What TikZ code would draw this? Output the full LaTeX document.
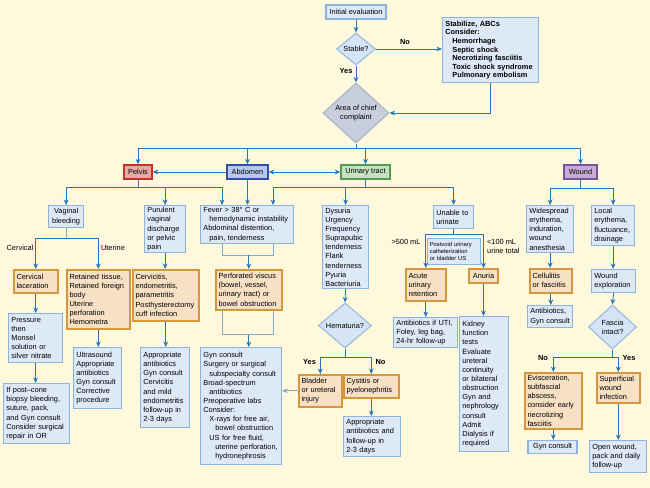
\documentclass[tikz,border=0pt]{standalone}
\usepackage{fontspec}
\setmainfont{Liberation Sans}
\usetikzlibrary{shapes.geometric,arrows.meta}

\definecolor{bgcream}{RGB}{254,248,220}
\definecolor{boxfill}{RGB}{221,233,247}
\definecolor{boxline}{RGB}{140,178,222}
\definecolor{orafill}{RGB}{247,224,196}
\definecolor{oraline}{RGB}{214,150,60}
\definecolor{arrowblue}{RGB}{37,117,185}
\definecolor{linelt}{RGB}{130,170,214}
\definecolor{decfill}{RGB}{214,229,246}
\definecolor{decline}{RGB}{150,184,224}
\definecolor{areafill}{RGB}{200,206,221}
\definecolor{arealine}{RGB}{168,176,194}
\definecolor{pelfill}{RGB}{230,170,165}
\definecolor{pelline}{RGB}{196,50,45}
\definecolor{abdfill}{RGB}{183,200,238}
\definecolor{abdline}{RGB}{50,80,170}
\definecolor{urifill}{RGB}{198,226,192}
\definecolor{uriline}{RGB}{80,155,80}
\definecolor{wndfill}{RGB}{196,172,212}
\definecolor{wndline}{RGB}{125,80,155}

\tikzset{
  txt/.style={font=\fontsize{8.4}{10.4}\selectfont, text=black},
  blubox/.style={txt, draw=boxline, fill=boxfill, line width=1.4pt, anchor=north west,
    align=left, inner xsep=1.1mm, inner ysep=0.6mm},
  orabox/.style={blubox, draw=oraline, fill=orafill, line width=1.8pt},
  midbox/.style={txt, draw=boxline, fill=boxfill, line width=1.4pt, inner sep=0.5mm},
  catbox/.style={txt, line width=1.6pt, inner sep=0.5mm, minimum height=5.6mm},
  decbox/.style={txt, diamond, draw=decline, fill=decfill, line width=1.2pt, inner sep=0pt, align=center},
  tag/.style={txt, inner sep=0pt},
  arr/.style={draw=arrowblue, line width=0.9pt, -{Stealth[length=2.2mm,width=1.9mm]}},
  ln/.style={draw=arrowblue, line width=0.9pt},
  lnlt/.style={draw=linelt, line width=0.9pt},
}

\begin{document}
\begin{tikzpicture}[x=0.4mm,y=-0.4mm]
\useasboundingbox (0,0) rectangle (650,488);
\fill[bgcream] (0,0) rectangle (650,488);

% top of the chart
\node[midbox, minimum width=24mm, minimum height=5.6mm] (init) at (356,12) {Initial evaluation};
\node[decbox, minimum width=15.6mm, minimum height=12.8mm] (stable) at (356,49) {Stable?};
\node[blubox, text width=36.2mm, minimum height=26mm, font=\fontsize{8.4}{9.7}\selectfont\bfseries] (stab) at (442,17)
  {Stabilize, ABCs\\Consider:\\\hspace*{2.8mm}Hemorrhage\\\hspace*{2.8mm}Septic shock\\\hspace*{2.8mm}Necrotizing fasciitis\\\hspace*{2.8mm}Toxic shock syndrome\\\hspace*{2.8mm}Pulmonary embolism};
\node[decbox, draw=arealine, fill=areafill, minimum width=26.4mm, minimum height=24mm] (area) at (356,113) {Area of chief\\complaint};

\draw[arr] (init) -- (stable);
\draw[arr] (stable.east) -- (stable.east -| stab.west);
\draw[arr] (stable.south) -- (area.north);
\draw[arr] (stab.south) |- (area.east);
\node[tag, font=\fontsize{8.4}{10}\selectfont\bfseries] (lno) at (405,42) {No};
\node[tag, font=\fontsize{8.4}{10}\selectfont\bfseries] (lyes) at (346,71) {Yes};

% areas
\node[catbox, draw=pelline, fill=pelfill, minimum width=11.2mm] (pelvis) at (138,172) {Pelvis};
\node[catbox, draw=abdline, fill=abdfill, minimum width=16.4mm] (abdomen) at (247.5,172) {Abdomen};
\node[catbox, draw=uriline, fill=urifill, minimum width=19.6mm] (urinary) at (365.5,172) {Urinary tract};
\node[catbox, draw=wndline, fill=wndfill, minimum width=13.2mm] (wound) at (580.5,172) {Wound};

\draw[ln] (area.south) -- ++(0,5) coordinate (abus);
\draw[arr] (abus) -| (pelvis.north);
\draw[arr] (abus) -| (abdomen.north);
\draw[arr] (abus) -| (urinary.north);
\draw[arr] (abus) -| (wound.north);
\draw[arr] (abdomen.west) -- (pelvis.east);
\draw[arr, {Stealth[length=2.2mm,width=1.9mm]}-{Stealth[length=2.2mm,width=1.9mm]}] (abdomen.east) -- (urinary.west);

% second row
\node[blubox, text width=11.8mm, minimum height=8.8mm, align=center] (vagbl) at (48,205) {Vaginal\\bleeding};
\node[blubox, text width=14.2mm, minimum height=18.8mm] (purul) at (144,205) {Purulent\\vaginal\\discharge\\or pelvic\\pain};
\node[blubox, text width=35mm, minimum height=15.2mm] (fever) at (200,205)
  {Fever > 38° C or\\\hspace*{2.4mm}hemodynamic instability\\Abdominal distention,\\\hspace*{2.4mm}pain, tenderness};
\node[blubox, text width=16.2mm, minimum height=33.2mm] (dysur) at (322,205)
  {Dysuria\\Urgency\\Frequency\\Suprapubic\\tenderness\\Flank\\tenderness\\Pyuria\\Bacteriuria};
\node[blubox, text width=13.8mm, minimum height=9.2mm] (unable) at (433,205) {Unable to\\urinate};
\node[blubox, text width=16.6mm, minimum height=18.8mm] (wide) at (526,205) {Widespread\\erythema,\\induration,\\wound\\anesthesia};
\node[blubox, text width=15mm, minimum height=16mm] (local) at (591,205) {Local\\erythema,\\fluctuance,\\drainage};

\draw[ln] (pelvis.south) -- ++(0,8) coordinate (pbus);
\draw[arr] (pbus) -| (vagbl.north);
\draw[arr] (pbus) -| (purul.north);
\draw[arr] (pbus) -| ([xshift=8.8mm]fever.north west);
\draw[arr] (abdomen.south) -- (abdomen.south |- fever.north);
\draw[ln] (urinary.south) -- ++(0,8) coordinate (ubus);
\draw[arr] (ubus) -| ([xshift=29.2mm]fever.north west);
\draw[arr] (ubus) -| (dysur.north);
\draw[arr] (ubus) -| (unable.north);
\draw[ln] (wound.south) -- ++(0,9) coordinate (wbus);
\draw[arr] (wbus) -| (wide.north);
\draw[arr] (wbus) -| (local.north);

% pelvis
\node[orabox, text width=15.4mm, minimum height=9.2mm] (cerlac) at (13,269) {Cervical\\laceration};
\node[orabox, text width=23mm, minimum height=23.6mm] (retain) at (66,269)
  {Retained tissue,\\Retained foreign\\body\\Uterine\\perforation\\Hemometra};
\node[orabox, text width=24.2mm, minimum height=20.4mm] (cervic) at (132,269)
  {Cervicitis,\\endometritis,\\parametritis\\Posthysterectomy\\cuff infection};
\node[blubox, text width=19.4mm, minimum height=19.6mm] (pressr) at (8,313) {Pressure\\then\\Monsel\\solution or\\silver nitrate};
\node[blubox, text width=24.2mm, minimum height=24mm] (postcone) at (3,383)
  {If post–cone\\biopsy bleeding,\\suture, pack,\\and Gyn consult\\Consider surgical\\repair in OR};
\node[blubox, text width=17mm, minimum height=24.4mm] (ultra) at (73,347)
  {Ultrasound\\Appropriate\\antibiotics\\Gyn consult\\Corrective\\procedure};
\node[blubox, text width=17.4mm, minimum height=32mm] (approp) at (140,347)
  {Appropriate\\antibiotics\\Gyn consult\\Cervicitis\\and mild\\endometritis\\follow-up in\\2-3 days};
\node[tag] (lcerv) at (20,248) {Cervical};
\node[tag] (luter) at (113,248) {Uterine};

\draw[lnlt] (vagbl.south) -- ++(0,10) coordinate (vbus);
\draw[arr] (vbus) -| (cerlac.north);
\draw[arr] (vbus) -| (retain.north);
\draw[arr] (cerlac.south) -- (cerlac.south |- pressr.north);
\draw[arr] (pressr.south) -- (pressr.south |- postcone.north);
\draw[arr] (retain.south) -- (retain.south |- ultra.north);
\draw[arr] (purul.south) -- (purul.south |- cervic.north);
\draw[arr] (cervic.south) -- (cervic.south |- approp.north);

% abdomen
\node[orabox, text width=24.2mm, minimum height=16mm] (perf) at (215,269)
  {Perforated viscus\\(bowel, vessel,\\urinary tract) or\\bowel obstruction};
\node[blubox, text width=30.2mm, minimum height=46.8mm] (gyncons) at (200,347)
  {Gyn consult\\Surgery or surgical\\\hspace*{2.4mm}subspecialty consult\\Broad-spectrum\\\hspace*{2.4mm}antibiotics\\Preoperative labs\\Consider:\\\hspace*{2.4mm}X-rays for free air,\\\hspace*{4.8mm}bowel obstruction\\\hspace*{2.4mm}US for free fluid,\\\hspace*{4.8mm}uterine perforation,\\\hspace*{4.8mm}hydronephrosis};

\draw[lnlt] ([xshift=8.8mm]fever.south west) -- ++(0,11) coordinate (fbus) -| ([xshift=29.2mm]fever.south west);
\draw[arr] (fbus -| perf.north) -- (perf.north);
\draw[lnlt] ([xshift=2.8mm]perf.south west) -- ++(0,24) coordinate (pfbus) -| ([xshift=23.2mm]perf.south west);
\draw[arr] (pfbus -| perf.south) -- (perf.south |- gyncons.north);

% urinary tract
\node[decbox, minimum width=21.2mm, minimum height=18mm] (hemat) at (345,325.5) {Hematuria?};
\node[orabox, text width=15mm, minimum height=12.8mm] (bladd) at (298,374) {Bladder\\or ureteral\\injury};
\node[orabox, text width=19.8mm, minimum height=9.2mm] (cystit) at (343,374) {Cystitis or\\pyelonephritis};
\node[blubox, text width=20.6mm, minimum height=16mm] (approp2) at (343,416)
  {Appropriate\\antibiotics and\\follow-up in\\2-3 days};
\node[tag, font=\fontsize{8.4}{10}\selectfont\bfseries] (hyes) at (309.5,362) {Yes};
\node[tag, font=\fontsize{8.4}{10}\selectfont\bfseries] (hno) at (380.5,362) {No};

\draw[arr] (dysur.south) -- (hemat.north);
\draw[ln] (hemat.south) -- ++(0,9) coordinate (hbus);
\draw[arr] (hbus) -| (bladd.north);
\draw[arr] (hbus) -| (cystit.north);
\draw[arr, draw=linelt] (bladd.west) -- (bladd.west -| gyncons.east);
\draw[arr] (cystit.south) -- (cystit.south |- approp2.north);

\node[blubox, text width=19.4mm, minimum height=10.4mm, inner xsep=0.9mm, font=\fontsize{6.6}{8.2}\selectfont] (postv) at (427,238)
  {Postvoid urinary\\catheterization\\or bladder US};
\node[orabox, text width=13.8mm, minimum height=12.8mm] (acute) at (405,268) {Acute\\urinary\\retention};
\node[orabox, anchor=center, minimum width=11.6mm, minimum height=5.6mm, inner xsep=0.5mm] (anuria) at (483.5,276) {Anuria};
\node[blubox, text width=23.4mm, minimum height=12mm] (antiuti) at (393,317)
  {Antibiotics if UTI,\\Foley, leg bag,\\24-hr follow-up};
\node[blubox, text width=17.4mm, minimum height=54mm] (kidney) at (459,316)
  {Kidney\\function\\tests\\Evaluate\\ureteral\\continuity\\or bilateral\\obstruction\\Gyn and\\nephrology\\consult\\Admit\\Dialysis if\\required};
\node[tag] (l500) at (406,242) {>500 mL};
\node[tag, anchor=west, align=left] (l100) at (487,246.5) {<100 mL\\urine total};

\draw[ln] (unable.south) -- ++(0,5) coordinate (nbus);
\draw[arr] (nbus) -| (acute.north);
\draw[arr] (nbus) -| (anuria.north);
\draw[arr] (acute.south) -- (acute.south |- antiuti.north);
\draw[arr] (anuria.south) -- (anuria.south |- kidney.north);

% wound
\node[orabox, text width=14.6mm, minimum height=9.6mm] (cellul) at (529,268) {Cellulitis\\or fasciitis};
\node[blubox, text width=15.8mm, minimum height=8.8mm] (antigyn) at (527,305) {Antibiotics,\\Gyn consult};
\node[blubox, text width=15.4mm, minimum height=9.2mm] (explor) at (591,269) {Wound\\exploration};
\node[decbox, minimum width=19.2mm, minimum height=17.6mm] (fascia) at (612.5,327) {Fascia\\intact?};
\node[orabox, text width=20.6mm, minimum height=22.4mm] (evisc) at (524,372)
  {Evisceration,\\subfascial\\abscess,\\consider early\\necrotizing\\fasciitis};
\node[midbox, minimum width=19.6mm, minimum height=5.2mm] (gyncons2) at (552.5,447) {Gyn consult};
\node[orabox, text width=15mm, minimum height=12mm] (superf) at (596,372) {Superficial\\wound\\infection};
\node[blubox, text width=20.6mm, minimum height=12.8mm] (openw) at (589,440) {Open wound,\\pack and daily\\follow-up};
\node[tag, font=\fontsize{8.4}{10}\selectfont\bfseries] (fno) at (543,358) {No};
\node[tag, font=\fontsize{8.4}{10}\selectfont\bfseries] (fyes) at (629,358) {Yes};

\draw[arr] (wide.south) -- (wide.south |- cellul.north);
\draw[arr] (cellul.south) -- (cellul.south |- antigyn.north);
\draw[arr] (local.south) -- (local.south |- explor.north);
\draw[arr] (explor.south) -- (fascia.north);
\draw[ln] (fascia.south) -- ++(0,8) coordinate (fbus2);
\draw[arr] (fbus2) -| (evisc.north);
\draw[arr] (fbus2) -| (superf.north);
\draw[arr] (evisc.south) -- (evisc.south |- gyncons2.north);
\draw[arr] (superf.south) -- (superf.south |- openw.north);

\end{tikzpicture}
\end{document}
